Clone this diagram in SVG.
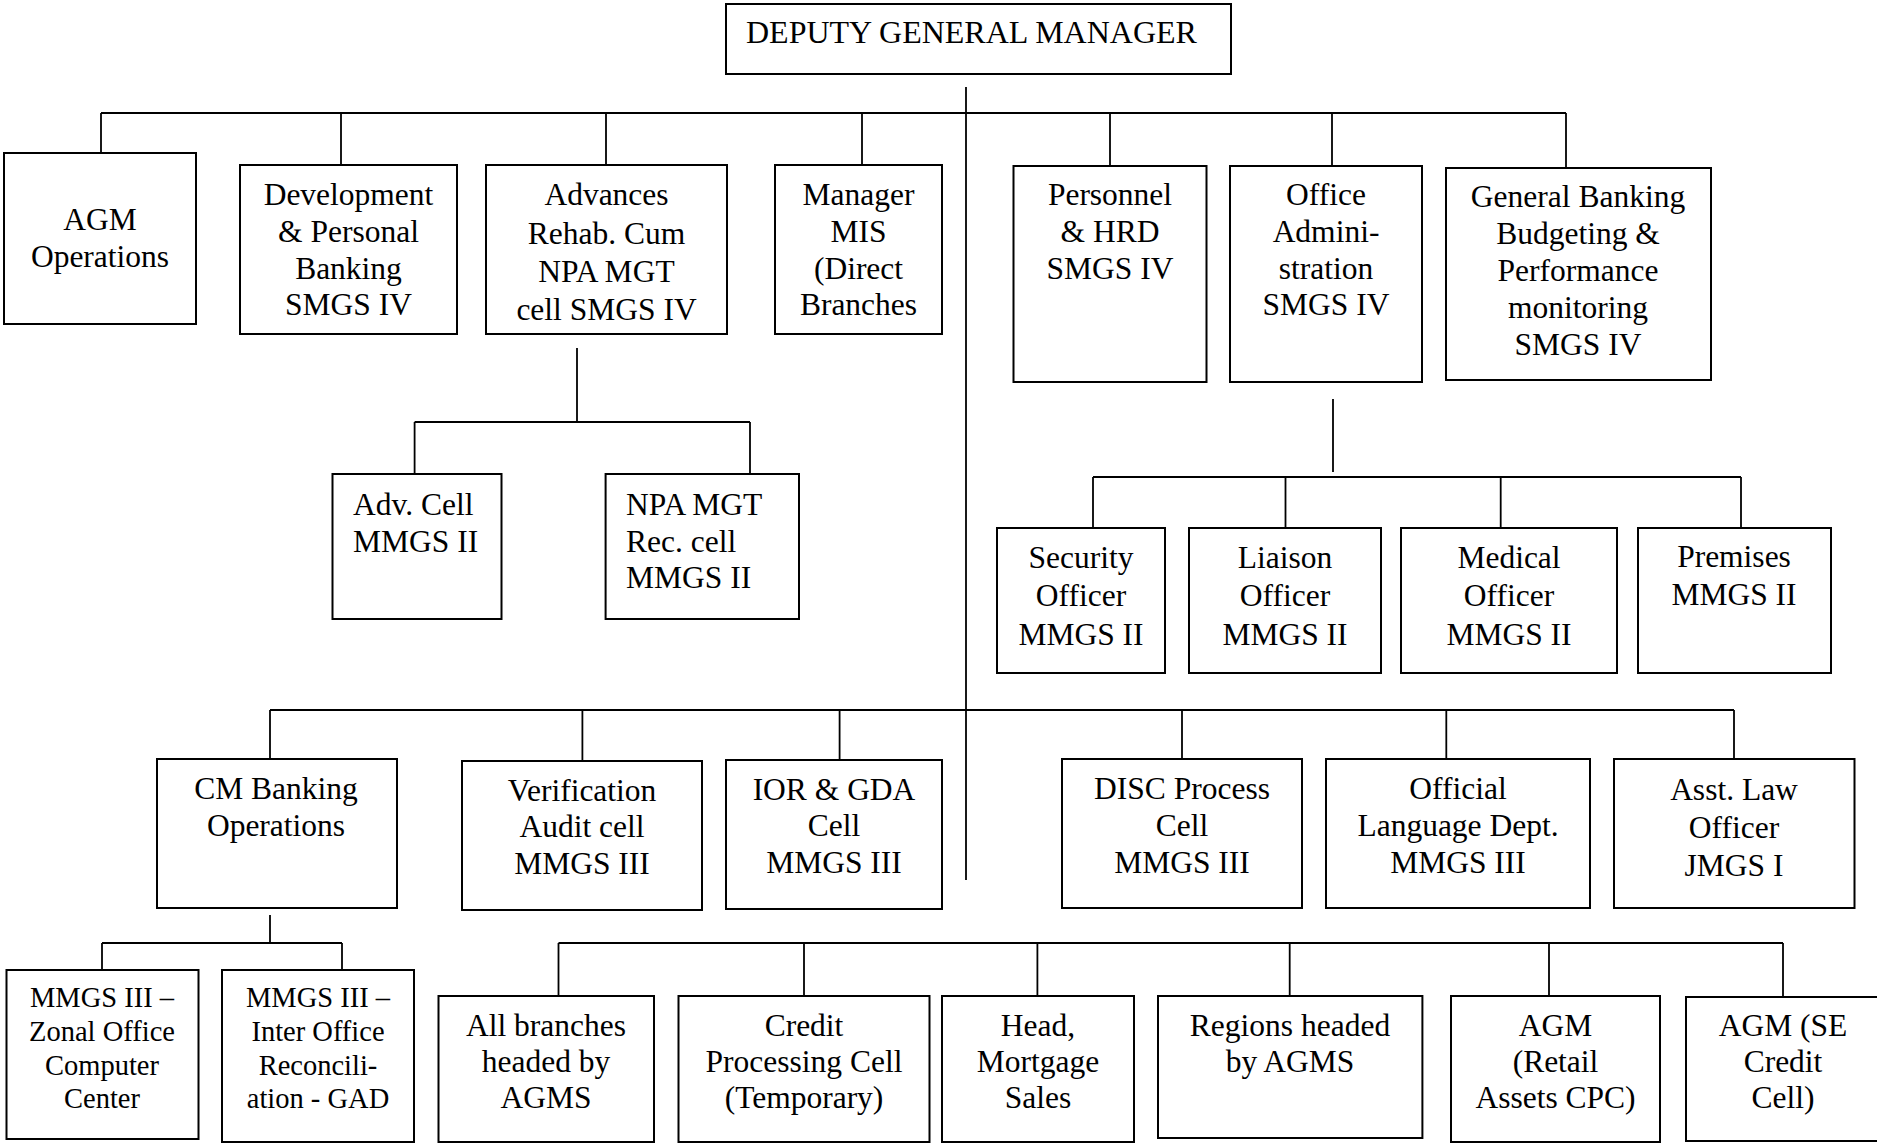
<svg xmlns="http://www.w3.org/2000/svg" width="1877" height="1144" viewBox="0 0 1877 1144">
<style>
rect{fill:#fff;stroke:#000;stroke-width:2}
#connectors line{stroke:#000;stroke-width:1.8}
text{font-family:"Liberation Serif","Times New Roman",serif;font-size:31.5px;fill:#000;text-anchor:middle}
.s{font-size:28.5px}
.l{text-anchor:start}
.t{font-size:32px}
</style>
<rect x="0" y="0" width="1877" height="1144" style="stroke:none"/>
<g id="connectors">
<line x1="966" y1="87" x2="966" y2="880"/>
<line x1="101" y1="113" x2="1566" y2="113"/>
<line x1="101" y1="113" x2="101" y2="153"/>
<line x1="341" y1="113" x2="341" y2="165"/>
<line x1="606" y1="113" x2="606" y2="165"/>
<line x1="862" y1="113" x2="862" y2="165"/>
<line x1="1110" y1="113" x2="1110" y2="166"/>
<line x1="1332" y1="113" x2="1332" y2="166"/>
<line x1="1566" y1="113" x2="1566" y2="168"/>
<line x1="577" y1="348" x2="577" y2="422"/>
<line x1="414.6" y1="422" x2="750" y2="422"/>
<line x1="414.6" y1="422" x2="414.6" y2="474"/>
<line x1="750" y1="422" x2="750" y2="474"/>
<line x1="1333" y1="399" x2="1333" y2="472"/>
<line x1="1093" y1="477" x2="1741" y2="477"/>
<line x1="1093" y1="477" x2="1093" y2="528"/>
<line x1="1285.5" y1="477" x2="1285.5" y2="528"/>
<line x1="1500.7" y1="477" x2="1500.7" y2="528"/>
<line x1="1741" y1="477" x2="1741" y2="528"/>
<line x1="270" y1="710" x2="1734" y2="710"/>
<line x1="270" y1="710" x2="270" y2="759"/>
<line x1="582.4" y1="710" x2="582.4" y2="761"/>
<line x1="839.6" y1="710" x2="839.6" y2="760"/>
<line x1="1182" y1="710" x2="1182" y2="759"/>
<line x1="1446.3" y1="710" x2="1446.3" y2="759"/>
<line x1="1734" y1="710" x2="1734" y2="759"/>
<line x1="270" y1="915" x2="270" y2="943"/>
<line x1="102" y1="943" x2="342" y2="943"/>
<line x1="102" y1="943" x2="102" y2="970"/>
<line x1="342" y1="943" x2="342" y2="970"/>
<line x1="558.5" y1="943" x2="1783" y2="943"/>
<line x1="558.5" y1="943" x2="558.5" y2="996"/>
<line x1="804" y1="943" x2="804" y2="996"/>
<line x1="1037.4" y1="943" x2="1037.4" y2="996"/>
<line x1="1289.7" y1="943" x2="1289.7" y2="996"/>
<line x1="1549" y1="943" x2="1549" y2="996"/>
<line x1="1783" y1="943" x2="1783" y2="997"/>
</g>
<g id="dgm"><rect x="726" y="4" width="505" height="70"/><text class="l t" x="746" y="43">DEPUTY GENERAL MANAGER</text></g>
<g id="agm-ops"><rect x="4" y="153" width="192" height="171"/><text x="100" y="230">AGM</text><text x="100" y="267">Operations</text></g>
<g id="dev"><rect x="240" y="165" width="217" height="169"/><text x="348.5" y="205">Development</text><text x="348.5" y="242">&amp; Personal</text><text x="348.5" y="279">Banking</text><text x="348.5" y="315">SMGS IV</text></g>
<g id="adv"><rect x="486" y="165" width="241" height="169"/><text x="606.5" y="205">Advances</text><text x="606.5" y="244">Rehab. Cum</text><text x="606.5" y="282">NPA MGT</text><text x="606.5" y="320">cell SMGS IV</text></g>
<g id="mis"><rect x="775" y="165" width="167" height="169"/><text x="858.5" y="205">Manager</text><text x="858.5" y="242">MIS</text><text x="858.5" y="279">(Direct</text><text x="858.5" y="315">Branches</text></g>
<g id="personnel"><rect x="1013.5" y="166" width="193" height="216"/><text x="1110" y="205">Personnel</text><text x="1110" y="242">&amp; HRD</text><text x="1110" y="279">SMGS IV</text></g>
<g id="office"><rect x="1230" y="166" width="192" height="216"/><text x="1326" y="205">Office</text><text x="1326" y="242">Admini-</text><text x="1326" y="279">stration</text><text x="1326" y="315">SMGS IV</text></g>
<g id="gb"><rect x="1446" y="168" width="265" height="212"/><text x="1578" y="207">General Banking</text><text x="1578" y="244">Budgeting &amp;</text><text x="1578" y="281">Performance</text><text x="1578" y="318">monitoring</text><text x="1578" y="355">SMGS IV</text></g>
<g id="adv-cell"><rect x="332.5" y="474" width="169" height="145"/><text class="l" x="353" y="515">Adv. Cell</text><text class="l" x="353" y="552">MMGS II</text></g>
<g id="npa"><rect x="605.6" y="474" width="193.4" height="145"/><text class="l" x="626" y="515">NPA MGT</text><text class="l" x="626" y="552">Rec. cell</text><text class="l" x="626" y="588">MMGS II</text></g>
<g id="security"><rect x="997" y="528" width="168" height="145"/><text x="1081" y="568">Security</text><text x="1081" y="606">Officer</text><text x="1081" y="645">MMGS II</text></g>
<g id="liaison"><rect x="1189" y="528" width="192" height="145"/><text x="1285" y="568">Liaison</text><text x="1285" y="606">Officer</text><text x="1285" y="645">MMGS II</text></g>
<g id="medical"><rect x="1401" y="528" width="216" height="145"/><text x="1509" y="568">Medical</text><text x="1509" y="606">Officer</text><text x="1509" y="645">MMGS II</text></g>
<g id="premises"><rect x="1638" y="528" width="193" height="145"/><text x="1734" y="567">Premises</text><text x="1734" y="605">MMGS II</text></g>
<g id="cm"><rect x="157" y="759" width="240" height="149"/><text x="276" y="799">CM Banking</text><text x="276" y="836">Operations</text></g>
<g id="verification"><rect x="462" y="761" width="240" height="149"/><text x="582" y="801">Verification</text><text x="582" y="837">Audit cell</text><text x="582" y="874">MMGS III</text></g>
<g id="ior"><rect x="726" y="760" width="216" height="149"/><text x="834" y="800">IOR &amp; GDA</text><text x="834" y="836">Cell</text><text x="834" y="873">MMGS III</text></g>
<g id="disc"><rect x="1062" y="759" width="240" height="149"/><text x="1182" y="799">DISC Process</text><text x="1182" y="836">Cell</text><text x="1182" y="873">MMGS III</text></g>
<g id="official"><rect x="1326" y="759" width="264" height="149"/><text x="1458" y="799">Official</text><text x="1458" y="836">Language Dept.</text><text x="1458" y="873">MMGS III</text></g>
<g id="law"><rect x="1614" y="759" width="240.5" height="149"/><text x="1734" y="800">Asst. Law</text><text x="1734" y="838">Officer</text><text x="1734" y="876">JMGS I</text></g>
<g id="zonal"><rect x="6.5" y="970" width="192" height="169"/><text class="s" x="102" y="1007">MMGS III –</text><text class="s" x="102" y="1041">Zonal Office</text><text class="s" x="102" y="1075">Computer</text><text class="s" x="102" y="1108">Center</text></g>
<g id="inter"><rect x="222" y="970" width="192" height="172"/><text class="s" x="318" y="1007">MMGS III –</text><text class="s" x="318" y="1041">Inter Office</text><text class="s" x="318" y="1075">Reconcili-</text><text class="s" x="318" y="1108">ation - GAD</text></g>
<g id="branches"><rect x="438.5" y="996" width="215.5" height="146"/><text x="546" y="1036">All branches</text><text x="546" y="1072">headed by</text><text x="546" y="1108">AGMS</text></g>
<g id="credit"><rect x="678.5" y="996" width="251" height="146"/><text x="804" y="1036">Credit</text><text x="804" y="1072">Processing Cell</text><text x="804" y="1108">(Temporary)</text></g>
<g id="mortgage"><rect x="942" y="996" width="192" height="146"/><text x="1038" y="1036">Head,</text><text x="1038" y="1072">Mortgage</text><text x="1038" y="1108">Sales</text></g>
<g id="regions"><rect x="1158" y="996" width="264.4" height="142"/><text x="1290" y="1036">Regions headed</text><text x="1290" y="1072">by AGMS</text></g>
<g id="retail"><rect x="1451" y="996" width="209" height="146"/><text x="1555.5" y="1036">AGM</text><text x="1555.5" y="1072">(Retail</text><text x="1555.5" y="1108">Assets CPC)</text></g>
<g id="se"><rect x="1686" y="997" width="200" height="144"/><text x="1783" y="1036">AGM (SE</text><text x="1783" y="1072">Credit</text><text x="1783" y="1108">Cell)</text></g>
</svg>
